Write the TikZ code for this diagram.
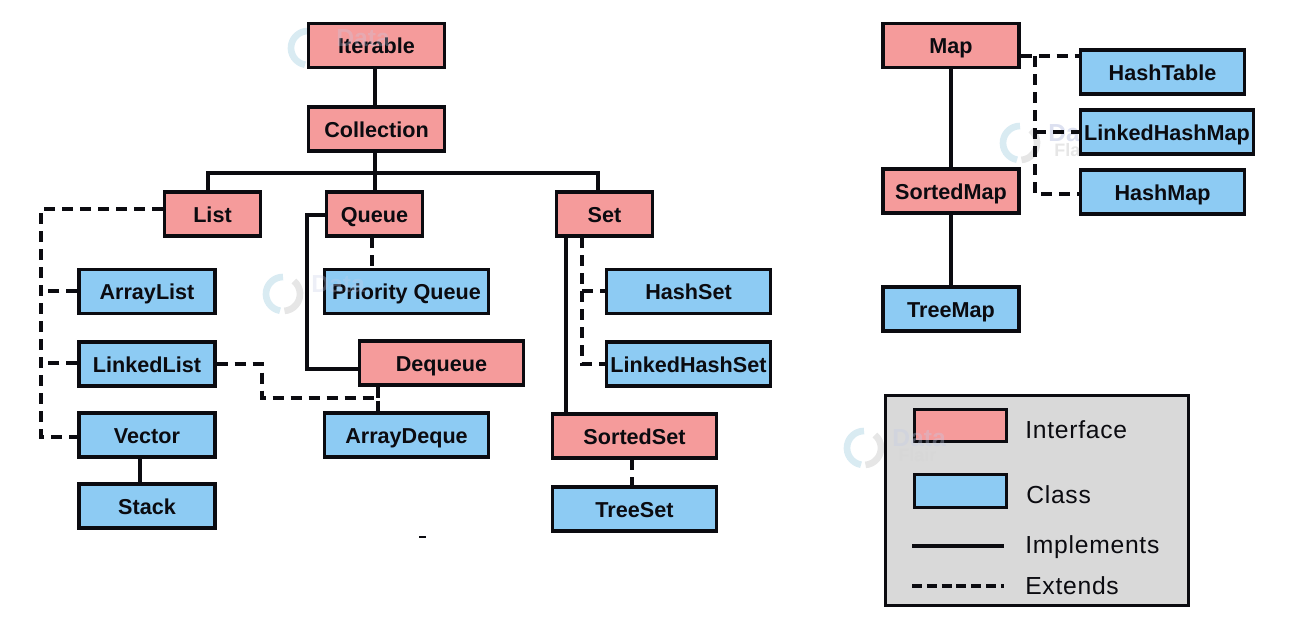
\documentclass[tikz,border=0pt]{standalone}
\usepackage{fontspec}
\setmainfont{Liberation Sans}
\newfontfamily\legendfont[LetterSpace=3]{Liberation Sans}
\definecolor{ifacefill}{HTML}{F59B9B}
\definecolor{classfill}{HTML}{8DCBF3}
\definecolor{legendfill}{HTML}{D9D9D9}
\definecolor{inkc}{HTML}{0B0B10}
\definecolor{wmblue}{HTML}{BFDDEA}
\definecolor{wmgrey}{HTML}{D5D5D5}
\definecolor{wmtext}{HTML}{C4CBE6}
\tikzset{
  box/.style={draw=inkc,line width=2.3pt,inner sep=0pt,text=inkc,font=\fontsize{16.2pt}{18pt}\selectfont\bfseries,minimum height=33pt,text height=12.6pt,text depth=0pt},
  iface/.style={box,fill=ifacefill},
  cls/.style={box,fill=classfill},
  wn/.style={minimum width=72pt},
  wb/.style={minimum width=102pt},
  wc/.style={minimum width=123pt},
  wd/.style={minimum width=130pt},
  solidline/.style={draw=inkc,line width=2.5pt},
  dashline/.style={draw=inkc,line width=2.5pt,dash pattern=on 8.5pt off 5pt},
  legendtext/.style={anchor=west,text=inkc,inner sep=0pt,text height=13pt,text depth=0pt,font=\fontsize{18.5pt}{20pt}\legendfont},
  swatch/.style={draw=inkc,line width=2.3pt,minimum width=69pt,minimum height=24.5pt,inner sep=0pt},
  wmarc/.style={line width=5pt},
  wmdata/.style={anchor=west,inner sep=0pt,text=wmtext,font=\fontsize{18.5pt}{19pt}\selectfont\bfseries},
  wmflair/.style={anchor=west,inner sep=0pt,text=wmgrey,font=\fontsize{13.5pt}{14pt}\selectfont\bfseries}
}
% watermark ring, laid under the boxes
\newcommand{\wmring}[2]{%
  \begin{scope}[shift={(#1,#2)},opacity=.6]
    \draw[wmarc,wmblue] (100:17) arc (100:270:17);
    \draw[wmarc,wmgrey] (85:17) arc (85:-50:17);
  \end{scope}}
% watermark word "Data" and word "Flair" at a given opacity
\newcommand{\wmdataword}[3]{\node[wmdata,opacity=#3] at ($(#1,#2)+(28,-10)$) {Data};}
\newcommand{\wmflairword}[3]{\node[wmflair,opacity=#3] at ($(#1,#2)+(34,7)$) {Flair};}
\usetikzlibrary{calc}
\begin{document}
\begin{tikzpicture}[x=.75pt,y=-.75pt]
\useasboundingbox (0,0) rectangle (1296,639);
% watermark rings and words that boxes cover
\wmring{308}{48}
\wmring{283}{294}
\wmring{1020}{143}
\wmring{864}{448}
\wmdataword{1020}{143}{.6}
\wmflairword{1020}{143}{.6}
% named waypoints of the connectors
\coordinate (trunk) at (375,0);
\coordinate (busL) at (208,173);
\coordinate (busR) at (598,173);
\coordinate (listJ) at (41,209);
\coordinate (arrJ) at (41,291);
\coordinate (lnkJ) at (41,363);
\coordinate (vecJ) at (41,437);
\coordinate (lkA) at (262,364);
\coordinate (lkB) at (262,398);
\coordinate (lkC) at (378,398);
\coordinate (quA) at (307,215);
\coordinate (quB) at (307,369);
\coordinate (quP) at (372,237);
\coordinate (setS) at (566,237);
\coordinate (setD) at (582,237);
\coordinate (setH) at (582,291);
\coordinate (setL) at (582,364);
\coordinate (ssT) at (632,459);
\coordinate (vsT) at (140,458);
\coordinate (mapM) at (1035,56);
\coordinate (mapL) at (1035,132);
\coordinate (mapH) at (1035,194);
% nodes
\node[iface,wb] (iter) at (376.5,45.5) {Iterable};
\node[iface,wb] (coll) at (376.5,129) {Collection};
\node[iface,wn] (list) at (212.5,214) {List};
\node[iface,wn] (queue) at (374.5,214) {Queue};
\node[iface,wn] (set) at (604.5,214) {Set};
\node[cls,wb] (arrl) at (147,291.5) {ArrayList};
\node[cls,wb] (lnkl) at (147,364) {LinkedList};
\node[cls,wb] (vect) at (147,435) {Vector};
\node[cls,wb] (stack) at (147,506) {Stack};
\node[cls,wc] (prio) at (406.5,291.5) {Priority Queue};
\node[iface,wc] (deq) at (441.5,363) {Dequeue};
\node[cls,wc] (adq) at (406.5,435) {ArrayDeque};
\node[cls,wc] (hset) at (688.5,291.5) {HashSet};
\node[cls,wc] (lhset) at (688.5,364) {LinkedHashSet};
\node[iface,wc] (sset) at (634.5,436) {SortedSet};
\node[cls,wc] (tset) at (634.5,509) {TreeSet};
\node[iface,wb] (map) at (951,45.5) {Map};
\node[iface,wb] (smap) at (951,191) {SortedMap};
\node[cls,wb] (tmap) at (951,309) {TreeMap};
\node[cls,wc] (htab) at (1162.5,72) {HashTable};
\node[cls,wd] (lhm) at (1167,132) {LinkedHashMap};
\node[cls,wc] (hmap) at (1162.5,192) {HashMap};
% solid connectors
\draw[solidline] (iter.south -| trunk) -- (coll.north -| trunk);
\draw[solidline] (coll.south -| trunk) -- (queue.north -| trunk);
\draw[solidline] (list.north -| busL) -- (busL) -- (busR) -- (set.north -| busR);
\draw[solidline] (queue.west |- quA) -- (quA) -- (quB) -- (deq.west |- quB);
\draw[solidline] (setS) -- (sset.north -| setS);
\draw[solidline] (vsT) -- (stack.north -| vsT);
\draw[solidline] (map.south) -- (smap.north);
\draw[solidline] (smap.south) -- (tmap.north);
% dashed connectors
\draw[dashline] (list.west |- listJ) -- (listJ) -- (vecJ) -- (vect.west |- vecJ);
\draw[dashline] (arrl.west |- arrJ) -- (arrJ);
\draw[dashline] (lnkl.west |- lnkJ) -- (lnkJ);
\draw[dashline] (lnkl.east |- lkA) -- (lkA) -- (lkB) -- (lkC) -- (adq.north -| lkC);
\draw[dashline] (deq.south -| lkC) -- (lkC);
\draw[dashline] (quP) -- (prio.north -| quP);
\draw[dashline] (setD) -- (setL) -- (lhset.west |- setL);
\draw[dashline] (setH) -- (hset.west |- setH);
\draw[dashline] (ssT) -- (tset.north -| ssT);
\draw[dashline] (map.east |- mapM) -- (htab.west |- mapM);
\draw[dashline] (mapM) -- (mapH) -- (hmap.west |- mapH);
\draw[dashline] (mapL) -- (lhm.west |- mapL);
% faint words showing through boxes
\wmdataword{308}{48}{.3}
\wmdataword{283}{294}{.3}
% legend
\node[draw=inkc,fill=legendfill,line width=2.3pt,minimum width=227pt,minimum height=158pt,inner sep=0pt] (legend) at (1037,500.5) {};
\node[swatch,fill=ifacefill] (swi) at (960.5,425.5) {};
\node[swatch,fill=classfill] (swc) at (960.5,491) {};
\node[legendtext] (ti) at (1025,430) {Interface};
\node[legendtext] (tc) at (1026,495) {Class};
\node[legendtext] (tm) at (1025,545) {Implements};
\node[legendtext] (te) at (1025,586) {Extends};
\coordinate (lgS) at (912,546);
\coordinate (lgD) at (912,586);
\draw[draw=inkc,line width=2.3pt] (lgS) -- ++(92,0) coordinate (lgSe);
\draw[draw=inkc,line width=2.3pt,dash pattern=on 7.5pt off 3.6pt] (lgD) -- ++(92,0) coordinate (lgDe);
\wmdataword{864}{448}{.35}
\wmflairword{864}{448}{.45}
% stray mark
\coordinate (strayA) at (419,537);
\coordinate (strayB) at (426,537);
\draw[draw=inkc,line width=.9pt] (strayA) -- (strayB);
\end{tikzpicture}
\end{document}
